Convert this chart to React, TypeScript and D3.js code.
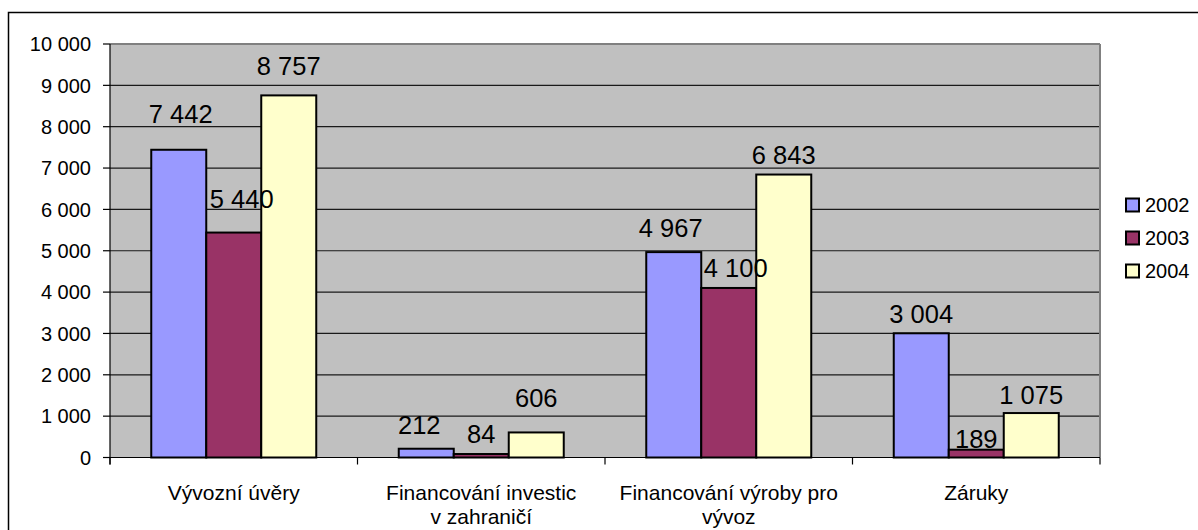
import { formatLocale, scaleBand, scaleLinear } from 'd3';

const categories = [
  ['Vývozní úvěry'],
  ['Financování investic', 'v zahraničí'],
  ['Financování výroby pro', 'vývoz'],
  ['Záruky'],
];
const years = ['2002', '2003', '2004'];
const values2002 = [7442, 212, 4967, 3004];
const values2003 = [5440, 84, 4100, 189];
const values2004 = [8757, 606, 6843, 1075];
const yTicks = [0, 1000, 2000, 3000, 4000, 5000, 6000, 7000, 8000, 9000, 10000];

const seriesValues = [values2002, values2003, values2004];
const COLORS = ['#9999ff', '#993366', '#ffffcc'];

// hand nudges so labels sit where the original Excel export put them
const LABEL_LIFT = [
  [27, 15, 15, 10],
  [25, 11, 11, 2],
  [20, 25, 11, 9],
];
const LABEL_SHIFT = [
  [2, -7, -3, 0],
  [8, 0, 7, 0],
  [0, 0, 0, 0],
];

const WIDTH = 1198;
const HEIGHT = 530;
const PLOT = { left: 110, right: 1100, top: 44, bottom: 457.5 };
const FONT = '"Liberation Sans", Arial, sans-serif';

const locale = formatLocale({ decimal: ',', thousands: ' ', grouping: [3], currency: ['', ''] });
const fmt = locale.format(',d');

export default function App() {
  const x = scaleBand<number>()
    .domain(categories.map((_, i) => i))
    .range([PLOT.left, PLOT.right])
    .paddingInner(0)
    .paddingOuter(0);

  const xInner = scaleBand<string>()
    .domain(years)
    .range([0, x.bandwidth()])
    .paddingInner(0)
    .paddingOuter(0.75);

  const y = scaleLinear().domain([0, 10000]).range([PLOT.bottom, PLOT.top]);

  const catTicks = [...categories.map((_, i) => x(i) ?? 0), PLOT.right];

  return (
    <svg
      width={WIDTH}
      height={HEIGHT}
      style={{ position: 'absolute', left: 0, top: 0, display: 'block', background: '#fff' }}
      fontFamily={FONT}
    >
      {/* outer chart frame, cropped at right and bottom */}
      <rect x={8.5} y={12.5} width={1300} height={600} fill="#fff" stroke="#000" strokeWidth={1.5} />

      <rect
        x={PLOT.left}
        y={PLOT.top}
        width={PLOT.right - PLOT.left}
        height={PLOT.bottom - PLOT.top}
        fill="#c0c0c0"
      />

      {yTicks.slice(1, -1).map((t) => (
        <line key={`g${t}`} x1={PLOT.left} x2={PLOT.right} y1={y(t)} y2={y(t)} stroke="#1a1a1a" strokeWidth={1.2} />
      ))}

      <line x1={PLOT.left} x2={PLOT.right} y1={PLOT.top} y2={PLOT.top} stroke="#808080" strokeWidth={2} />
      <line x1={PLOT.right} x2={PLOT.right} y1={PLOT.top} y2={PLOT.bottom} stroke="#808080" strokeWidth={2} />

      {seriesValues.map((vals, s) =>
        vals.map((v, c) => {
          const bx = (x(c) ?? 0) + (xInner(years[s]) ?? 0);
          return (
            <rect
              key={`b${s}-${c}`}
              x={bx}
              y={y(v)}
              width={xInner.bandwidth()}
              height={y(0) - y(v)}
              fill={COLORS[s]}
              stroke="#000"
              strokeWidth={2}
            />
          );
        }),
      )}

      {/* axes */}
      <line x1={PLOT.left} x2={PLOT.left} y1={PLOT.top} y2={PLOT.bottom + 7} stroke="#000" strokeWidth={1.2} />
      <line x1={PLOT.left - 7} x2={PLOT.right} y1={PLOT.bottom} y2={PLOT.bottom} stroke="#000" strokeWidth={1.2} />

      {yTicks.map((t) => (
        <g key={`t${t}`}>
          <line x1={PLOT.left - 7} x2={PLOT.left} y1={y(t)} y2={y(t)} stroke="#000" strokeWidth={1.2} />
          <text x={91} y={y(t)} dy="0.36em" textAnchor="end" fontSize={20} fill="#000">
            {fmt(t)}
          </text>
        </g>
      ))}

      {catTicks.map((cx, i) => (
        <line key={`c${i}`} x1={cx} x2={cx} y1={PLOT.bottom} y2={PLOT.bottom + 7} stroke="#000" strokeWidth={1.2} />
      ))}

      {categories.map((lines, i) => (
        <text key={`cl${i}`} x={(x(i) ?? 0) + x.bandwidth() / 2} textAnchor="middle" fontSize={21} fill="#000">
          {lines.map((line, k) => (
            <tspan key={k} x={(x(i) ?? 0) + x.bandwidth() / 2} y={500 + k * 24}>
              {line}
            </tspan>
          ))}
        </text>
      ))}

      {/* data labels */}
      {seriesValues.map((vals, s) =>
        vals.map((v, c) => {
          const cx = (x(c) ?? 0) + (xInner(years[s]) ?? 0) + xInner.bandwidth() / 2;
          return (
            <text
              key={`l${s}-${c}`}
              x={cx + LABEL_SHIFT[s][c]}
              y={y(v) - LABEL_LIFT[s][c]}
              textAnchor="middle"
              fontSize={25.5}
              fill="#000"
            >
              {fmt(v)}
            </text>
          );
        }),
      )}

      {/* legend */}
      {years.map((yr, i) => {
        const ly = 205 + i * 33;
        return (
          <g key={`lg${yr}`}>
            <rect x={1126} y={ly - 6.5} width={13} height={13} fill={COLORS[i]} stroke="#000" strokeWidth={2} />
            <text x={1145} y={ly} dy="0.36em" fontSize={20} fill="#000">
              {yr}
            </text>
          </g>
        );
      })}
    </svg>
  );
}
